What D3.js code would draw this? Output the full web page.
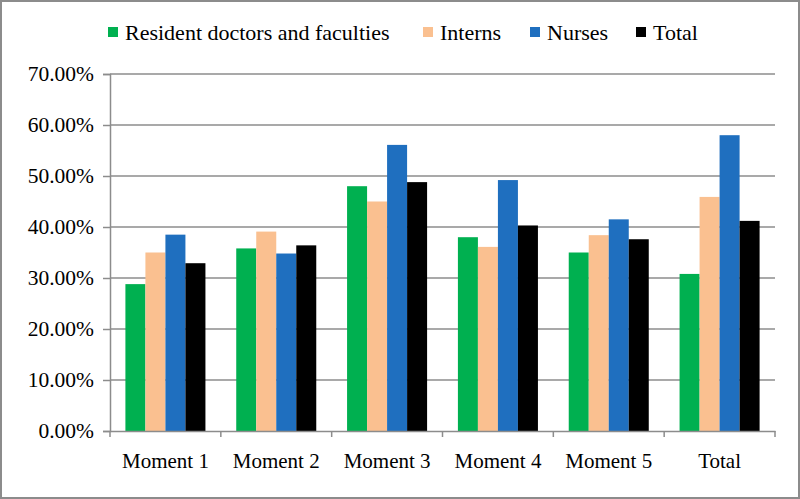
<!DOCTYPE html>
<html><head><meta charset="utf-8">
<script src="https://cdn.jsdelivr.net/npm/d3@7"></script>
<style>body{margin:0;background:#fff}svg{display:block}</style>
</head><body>
<script>
const categories = ["Moment 1","Moment 2","Moment 3","Moment 4","Moment 5","Total"];
const seriesNames = ["Resident doctors and faculties","Interns","Nurses","Total"];
const residents = [28.8, 35.8, 48.0, 38.0, 35.0, 30.8];
const interns   = [35.0, 39.1, 45.0, 36.1, 38.4, 45.9];
const nurses    = [38.5, 34.8, 56.1, 49.2, 41.5, 58.0];
const totals    = [32.9, 36.4, 48.8, 40.3, 37.6, 41.2];
const yTicks = [0,10,20,30,40,50,60,70];
const colors = ["#00B050","#FAC090","#1F6FBF","#000000"];
const series = [residents, interns, nurses, totals];

const W=800,H=499;
const m={left:110,right:25,top:74,bottom:68};
const svg=d3.select("body").append("svg").attr("width",W).attr("height",H);
svg.append("rect").attr("x",1).attr("y",1).attr("width",W-2).attr("height",H-2)
  .attr("fill","#fff").attr("stroke","#8c8c8c").attr("stroke-width",2);

const x=d3.scaleBand().domain(categories).range([m.left,W-m.right]).paddingInner(0).paddingOuter(0);
const xs=d3.scaleBand().domain(d3.range(4)).range([0,x.bandwidth()]).paddingInner(0).paddingOuter(0.77);
const y=d3.scaleLinear().domain([0,70]).range([H-m.bottom,m.top]);
const font="'Liberation Serif','Times New Roman',serif";

// gridlines
svg.append("g").selectAll("line").data(yTicks.filter(d=>d>0)).join("line")
  .attr("x1",m.left).attr("x2",W-m.right).attr("y1",d=>y(d)).attr("y2",d=>y(d))
  .attr("stroke","#8c8c8c").attr("stroke-width",1.5);

// bars
const g=svg.append("g");
series.forEach((vals,si)=>{
  g.append("g").selectAll("rect").data(vals).join("rect")
    .attr("x",(d,i)=>x(categories[i])+xs(si))
    .attr("y",d=>y(d)).attr("width",xs.bandwidth()).attr("height",d=>y(0)-y(d))
    .attr("fill",colors[si]);
});

// y axis
const ya=svg.append("g").attr("transform",`translate(${m.left},0)`)
  .call(d3.axisLeft(y).tickValues(yTicks).tickSize(7).tickPadding(9).tickFormat(d=>d.toFixed(2)+"%"));
ya.attr("font-family",font);
ya.select(".domain").attr("stroke","#8c8c8c").attr("stroke-width",1.5);
ya.selectAll(".tick line").attr("stroke","#8c8c8c").attr("stroke-width",1.5);
ya.selectAll("text").attr("font-family",font).attr("font-size",21.5).attr("fill","#000");

// x axis
const xa=svg.append("g").attr("transform",`translate(0,${y(0)})`)
  .call(d3.axisBottom(x).tickSize(0).tickPadding(22));
xa.attr("font-family",font);
xa.select(".domain").attr("stroke","#8c8c8c").attr("stroke-width",1.5);
xa.selectAll("text").attr("font-family",font).attr("font-size",21).attr("fill","#000");
const edges=categories.map(c=>x(c)).concat([W-m.right]);
svg.append("g").selectAll("line").data(edges).join("line")
  .attr("x1",d=>d).attr("x2",d=>d).attr("y1",y(0)).attr("y2",y(0)+6)
  .attr("stroke","#8c8c8c").attr("stroke-width",1.5);

// legend
const legX=[108,423,530,636];
const lg=svg.append("g");
seriesNames.forEach((n,i)=>{
  lg.append("rect").attr("x",legX[i]).attr("y",27).attr("width",10).attr("height",10).attr("fill",colors[i]);
  lg.append("text").attr("x",legX[i]+17).attr("y",40).text(n)
    .attr("font-family",font).attr("font-size",22).attr("fill","#000");
});
</script>
</body></html>
